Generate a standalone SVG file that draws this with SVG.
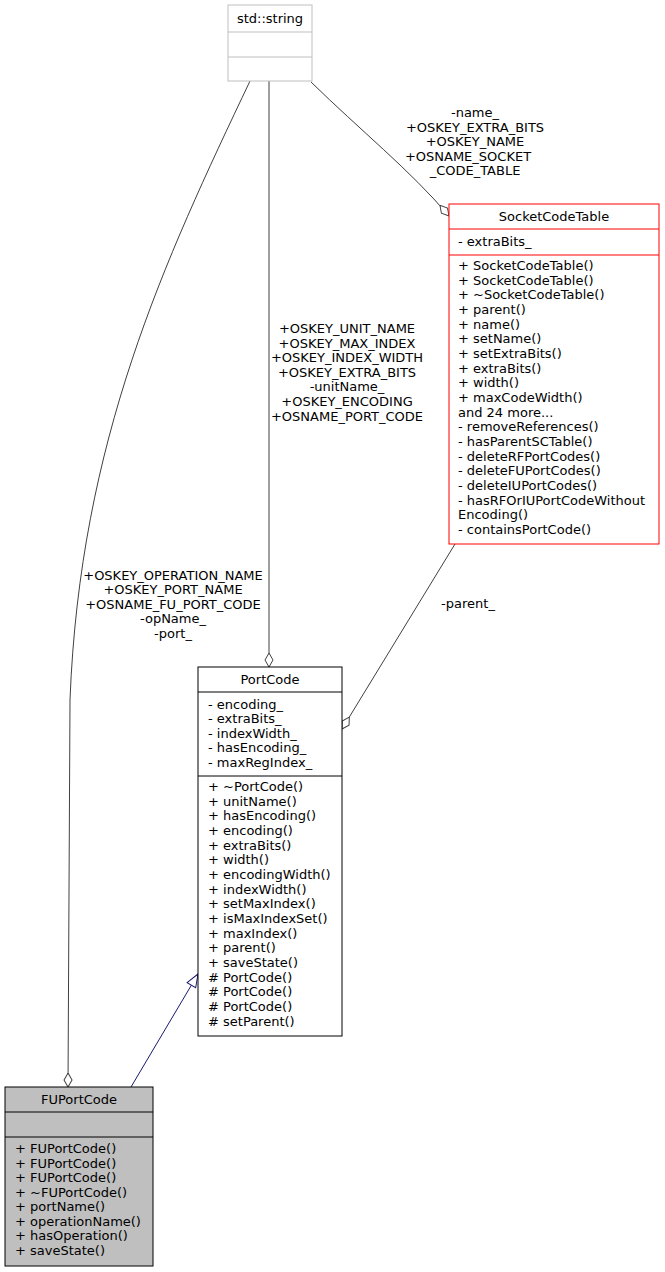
<svg xmlns="http://www.w3.org/2000/svg" width="665" height="1272" viewBox="0 0 665 1272">
<style>
text{font-family:"DejaVu Sans",sans-serif;font-size:13px;fill:#000}
.c{text-anchor:middle}
.e{fill:none;stroke:#404040;stroke-width:1}
.box{fill:#fff;stroke:#000;stroke-width:1}
</style>
<defs>
<marker id="dia" viewBox="-14 -5 15 10" refX="0" refY="0" markerWidth="15" markerHeight="10" markerUnits="userSpaceOnUse" orient="auto">
<path d="M0,0 L-7,-4 L-14,0 L-7,4 Z" fill="#fff" stroke="#404040"/>
</marker>
<marker id="tri" viewBox="-14 -6 15 12" refX="0" refY="0" markerWidth="15" markerHeight="12" markerUnits="userSpaceOnUse" orient="auto">
<path d="M0,0 L-13,-5 L-13,5 Z" fill="#fff" stroke="#191970"/>
</marker>
</defs>
<rect width="665" height="1272" fill="#fff"/>
<g id="connectors">
<path class="e" d="M250,81 C165,260 80,440 70,700 L68,1087" marker-end="url(#dia)"/>
<path class="e" d="M269,81 L269,667" marker-end="url(#dia)"/>
<path class="e" d="M311,82 C360,130 410,170 449,216" marker-end="url(#dia)"/>
<path class="e" d="M455,544 L342,729" marker-end="url(#dia)"/>
<path d="M131,1087 L198,974" fill="none" stroke="#191970" marker-end="url(#tri)"/>
<g class="c">
<text x="173" y="580">+OSKEY_OPERATION_NAME</text>
<text x="173" y="594">+OSKEY_PORT_NAME</text>
<text x="173" y="609">+OSNAME_FU_PORT_CODE</text>
<text x="173" y="623">-opName_</text>
<text x="173" y="638">-port_</text>
<text x="347" y="333">+OSKEY_UNIT_NAME</text>
<text x="347" y="348">+OSKEY_MAX_INDEX</text>
<text x="347" y="362">+OSKEY_INDEX_WIDTH</text>
<text x="347" y="377">+OSKEY_EXTRA_BITS</text>
<text x="347" y="391">-unitName_</text>
<text x="347" y="406">+OSKEY_ENCODING</text>
<text x="347" y="421">+OSNAME_PORT_CODE</text>
<text x="475" y="117">-name_</text>
<text x="475" y="132">+OSKEY_EXTRA_BITS</text>
<text x="475" y="146">+OSKEY_NAME</text>
<text x="468" y="161">+OSNAME_SOCKET</text>
<text x="475" y="175">_CODE_TABLE</text>
<text x="468" y="608">-parent_</text>
</g>
</g>
<g id="std_string">
<rect x="228" y="5" width="84" height="76" fill="#fff" stroke="#bfbfbf"/>
<line x1="228" y1="32" x2="312" y2="32" stroke="#bfbfbf"/>
<line x1="228" y1="57" x2="312" y2="57" stroke="#bfbfbf"/>
<text class="c" x="270" y="23">std::string</text>
</g>
<g id="SocketCodeTable">
<rect x="449" y="204" width="210" height="340" fill="#fff" stroke="#ff0000"/>
<line x1="449" y1="229" x2="659" y2="229" stroke="#ff0000"/>
<line x1="449" y1="255" x2="659" y2="255" stroke="#ff0000"/>
<text class="c" x="554" y="221">SocketCodeTable</text>
<text x="458" y="246">- extraBits_</text>
<text x="458" y="270">+ SocketCodeTable()</text>
<text x="458" y="285">+ SocketCodeTable()</text>
<text x="458" y="299">+ ~SocketCodeTable()</text>
<text x="458" y="314">+ parent()</text>
<text x="458" y="329">+ name()</text>
<text x="458" y="343">+ setName()</text>
<text x="458" y="358">+ setExtraBits()</text>
<text x="458" y="373">+ extraBits()</text>
<text x="458" y="387">+ width()</text>
<text x="458" y="402">+ maxCodeWidth()</text>
<text x="458" y="417">and 24 more...</text>
<text x="458" y="431">- removeReferences()</text>
<text x="458" y="446">- hasParentSCTable()</text>
<text x="458" y="461">- deleteRFPortCodes()</text>
<text x="458" y="475">- deleteFUPortCodes()</text>
<text x="458" y="490">- deleteIUPortCodes()</text>
<text x="458" y="505">- hasRFOrIUPortCodeWithout</text>
<text x="458" y="519">Encoding()</text>
<text x="458" y="534">- containsPortCode()</text>
</g>
<g id="PortCode">
<rect class="box" x="198" y="667" width="144" height="369"/>
<line x1="198" y1="692" x2="342" y2="692" stroke="#000"/>
<line x1="198" y1="776" x2="342" y2="776" stroke="#000"/>
<text class="c" x="270" y="684">PortCode</text>
<text x="208" y="709">- encoding_</text>
<text x="208" y="723">- extraBits_</text>
<text x="208" y="738">- indexWidth_</text>
<text x="208" y="752">- hasEncoding_</text>
<text x="208" y="767">- maxRegIndex_</text>
<text x="208" y="791">+ ~PortCode()</text>
<text x="208" y="806">+ unitName()</text>
<text x="208" y="820">+ hasEncoding()</text>
<text x="208" y="835">+ encoding()</text>
<text x="208" y="850">+ extraBits()</text>
<text x="208" y="864">+ width()</text>
<text x="208" y="879">+ encodingWidth()</text>
<text x="208" y="894">+ indexWidth()</text>
<text x="208" y="908">+ setMaxIndex()</text>
<text x="208" y="923">+ isMaxIndexSet()</text>
<text x="208" y="938">+ maxIndex()</text>
<text x="208" y="952">+ parent()</text>
<text x="208" y="967">+ saveState()</text>
<text x="208" y="982"># PortCode()</text>
<text x="208" y="996"># PortCode()</text>
<text x="208" y="1011"># PortCode()</text>
<text x="208" y="1026"># setParent()</text>
</g>
<g id="FUPortCode">
<rect x="5" y="1087" width="148" height="179" fill="#bfbfbf" stroke="#000"/>
<line x1="5" y1="1112" x2="153" y2="1112" stroke="#000"/>
<line x1="5" y1="1137" x2="153" y2="1137" stroke="#000"/>
<text class="c" x="79" y="1104">FUPortCode</text>
<text x="15" y="1153">+ FUPortCode()</text>
<text x="15" y="1168">+ FUPortCode()</text>
<text x="15" y="1182">+ FUPortCode()</text>
<text x="15" y="1197">+ ~FUPortCode()</text>
<text x="15" y="1211">+ portName()</text>
<text x="15" y="1226">+ operationName()</text>
<text x="15" y="1240">+ hasOperation()</text>
<text x="15" y="1255">+ saveState()</text>
</g>
</svg>
